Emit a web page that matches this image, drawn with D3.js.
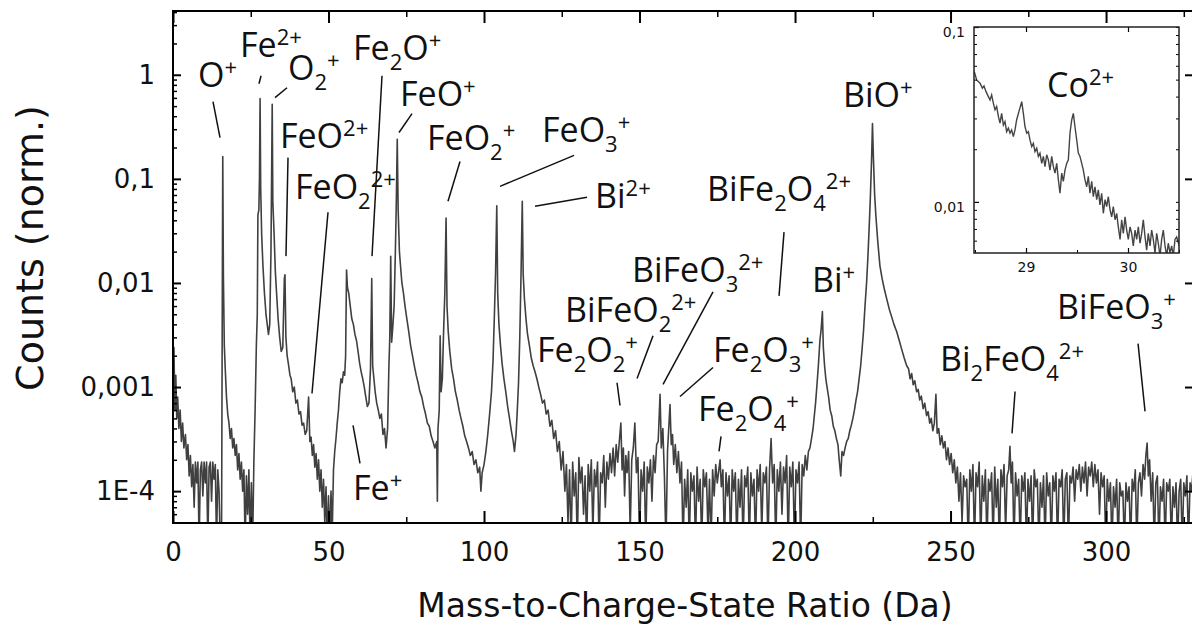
<!DOCTYPE html>
<html>
<head>
<meta charset="utf-8">
<script src="https://cdn.jsdelivr.net/npm/d3@7"></script>
<style>
  body { margin: 0; background: #fff; }
  svg { display: block; }
</style>
</head>
<body>
<div id="chart"></div>
<script>
// spectrum: [mass-to-charge (Da), normalised counts]
const specLow = [[0,1.1e-3],[0.3,2.4e-3],[0.6,6e-4],[0.9,1.3e-3],[1.2,5e-4],[1.5,8e-4],[1.9,4e-4],[2.3,6e-4],[2.7,3e-4],[3.1,4.5e-4],[3.5,2.6e-4],[4.0,3.5e-4],[4.4,2e-4],[4.8,2.8e-4],[5.2,1.4e-4],[5.6,2.2e-4],[6.0,1.1e-4],[6.4,1.8e-4],[6.8,7e-5],[7.2,1.9e-4],[7.6,1.2e-4],[8.0,1.9e-4],[8.4,3e-5],[8.8,1.6e-4],[9.2,1.9e-4],[9.6,9e-5],[10.0,1.9e-4],[10.4,1.2e-4],[10.8,1.9e-4],[11.2,3e-5],[11.6,1.7e-4],[12.0,1.9e-4],[12.4,8e-5],[12.8,1.9e-4],[13.2,1.3e-4],[13.6,1.8e-4],[14.0,3e-5],[14.4,1.6e-4],[14.8,1e-4],[15.2,3e-5],[15.6,3e-5],[15.9,0.02],[16.0,0.164],[16.2,0.012],[16.5,2.5e-3],[16.8,1.5e-3],[17.2,8e-4],[17.6,5.5e-4],[18.0,4.5e-4],[18.4,3.2e-4],[18.8,4e-4],[19.2,2.6e-4],[19.6,3.2e-4],[20.0,2.2e-4],[20.4,2.8e-4],[20.8,1.6e-4],[21.2,2.3e-4],[21.6,1.3e-4],[22.0,1.9e-4],[22.4,1e-4],[22.8,1.6e-4],[23.2,3e-5],[23.6,1.4e-4],[24.0,6e-5],[24.4,1.6e-4],[24.8,3e-5],[25.2,1.2e-4],[25.6,3e-5],[26.0,1.9e-4],[26.4,6e-4],[26.8,2.5e-3],[27.1,5e-3],[27.3,0.045],[27.6,0.05],[27.8,0.1],[28.0,0.59],[28.2,0.08],[28.5,0.03],[28.9,0.015],[29.4,8e-3],[29.9,5e-3],[30.3,4e-3],[30.7,3.2e-3],[31.1,4e-3],[31.5,0.02],[31.9,0.52],[32.1,0.06],[32.5,0.03],[32.9,0.013],[33.3,8e-3],[33.8,4.5e-3],[34.3,3e-3],[34.8,2.2e-3],[35.3,2.4e-3],[35.8,0.011],[36.0,0.012],[36.3,3e-3],[36.7,2e-3],[37.2,1.6e-3],[37.6,1.3e-3],[38.0,1.2e-3],[38.5,9e-4],[39.0,1e-3],[39.5,7e-4],[40.0,7.5e-4],[40.5,5.5e-4],[41.0,5.8e-4],[41.5,4.3e-4],[42.0,4.5e-4],[42.5,3.5e-4],[43.0,3.8e-4],[43.6,8e-4],[44.0,3e-4],[44.4,3.3e-4],[44.8,2.2e-4],[45.2,2.8e-4],[45.6,1.7e-4],[46.0,2.3e-4],[46.4,1.3e-4],[46.8,2e-4],[47.2,1e-4],[47.6,1.6e-4],[48.0,7e-5],[48.4,1.3e-4],[48.8,5e-5],[49.2,1.1e-4],[49.6,3e-5],[50.0,9e-5],[50.4,3e-5],[50.8,1e-4],[51.2,4e-5],[51.6,1.6e-4]];

const specFe = [[52.0,2.4e-4],[52.4,3.2e-4],[52.8,4.5e-4],[53.2,6e-4],[53.6,9e-4],[54.0,1.2e-3],[54.4,1.1e-3],[54.8,1.4e-3],[55.2,1.3e-3],[55.5,2e-3],[55.8,0.0133],[56.1,9e-3],[56.5,8e-3],[57.0,6e-3],[57.5,4.5e-3],[58.0,4e-3],[58.5,3.2e-3],[59.0,2.8e-3],[59.5,2.2e-3],[60.0,1.7e-3],[60.5,1.4e-3],[61.0,1.2e-3],[61.5,1e-3],[62.0,8e-4],[62.5,6.5e-4],[63.0,7e-4],[63.5,1.5e-3],[63.9,0.011],[64.2,1.6e-3],[64.6,1.2e-3],[65.0,9e-4],[65.5,7e-4],[66.0,6e-4],[66.5,5e-4],[67.0,5.5e-4],[67.5,3.5e-4],[68.0,4e-4],[68.5,2.6e-4],[69.0,4e-4],[69.4,1.5e-3],[69.7,3e-3],[70.0,0.018],[70.3,2.7e-3],[70.7,3.9e-3],[71.1,6e-3],[71.5,0.02],[71.8,0.06],[72.1,0.24],[72.4,0.05],[72.8,0.02],[73.2,0.014],[73.6,0.01],[74.1,8e-3],[74.6,6e-3],[75.2,4.5e-3],[75.8,3.4e-3],[76.4,2.5e-3],[77.0,2e-3],[77.6,1.6e-3],[78.2,1.3e-3],[78.8,1.1e-3],[79.4,9e-4],[80.0,8e-4],[80.6,6.5e-4],[81.2,5.5e-4],[81.8,4.5e-4],[82.4,4.2e-4],[83.0,3.4e-4],[83.6,3e-4],[84.2,2.6e-4],[84.8,3e-4],[85.0,8e-5],[85.2,4e-4],[85.6,6e-4],[85.9,3.1e-3],[86.2,9e-4],[86.6,1.2e-3],[87.0,3.4e-3],[87.4,8e-3],[87.8,0.042],[88.1,6e-3],[88.5,3.4e-3],[89.0,2.2e-3],[89.6,1.5e-3],[90.2,1.2e-3],[90.8,9e-4],[91.4,7.5e-4],[92.0,6e-4],[92.6,5e-4],[93.2,4.2e-4],[93.8,3.4e-4],[94.4,3e-4],[95.0,2.6e-4],[95.6,2.2e-4],[96.2,2.4e-4],[96.8,1.8e-4],[97.4,2e-4],[98.0,1.5e-4],[98.6,1.7e-4],[99.0,1e-4],[99.4,1.5e-4],[100.0,1.8e-4],[100.6,2.4e-4],[101.2,3.5e-4],[101.8,5.5e-4],[102.4,9e-4],[102.9,1.8e-3],[103.3,4.5e-3],[103.7,0.012],[104.1,0.055],[104.4,8e-3],[104.8,4e-3],[105.3,2.5e-3],[105.8,1.7e-3],[106.4,1.2e-3],[107.0,9e-4],[107.6,6.5e-4],[108.2,5e-4],[108.8,3.8e-4],[109.4,3e-4],[109.8,2.4e-4],[110.3,3.5e-4],[110.7,6e-4],[111.1,1.1e-3],[111.5,3e-3],[111.9,0.012],[112.3,0.061],[112.6,0.012],[113.0,7e-3],[113.5,4.5e-3],[114.0,3.2e-3],[114.6,2.5e-3],[115.2,1.9e-3],[115.8,1.6e-3],[116.4,1.4e-3],[117.0,1.2e-3],[117.6,1e-3],[118.2,8.5e-4],[118.8,7e-4],[119.4,7.5e-4],[120.0,5.5e-4],[120.6,6e-4],[121.2,4.2e-4],[121.8,4.8e-4],[122.4,3.2e-4],[123.0,3.8e-4],[123.6,2.4e-4],[124.2,3e-4],[124.8,1.6e-4]];

const specMid = [[125.4,2.4e-4],[126.0,1.0e-4],[126.5,1.8e-4],[127.0,5e-5],[127.5,1.6e-4],[128.0,3e-5],[128.5,1.9e-4],[129.0,9e-5],[129.5,1.5e-4],[130.0,3e-5],[130.5,2.1e-4],[131.0,1.2e-4],[131.5,1.7e-4],[132.0,6e-5],[132.5,1.4e-4],[133.0,3e-5],[133.5,1.8e-4],[134.0,1.0e-4],[134.5,2.0e-4],[135.0,4e-5],[135.5,1.6e-4],[136.0,1.1e-4],[136.5,1.9e-4],[137.0,3e-5],[137.5,1.5e-4],[138.0,1.2e-4],[138.5,2.2e-4],[139.0,7e-5],[139.5,1.9e-4],[140.0,1.3e-4],[140.5,2.3e-4],[141.0,1.5e-4],[141.5,2.6e-4],[142.0,1.4e-4],[142.5,2.8e-4],[143.0,1.9e-4],[143.5,3e-4],[144.0,4.5e-4],[144.4,1.6e-4],[144.8,2.6e-4],[145.2,9e-5],[145.6,2.2e-4],[146.0,1.5e-4],[146.5,2.4e-4],[147.0,4e-5],[147.5,2e-4],[148.0,2.6e-4],[148.5,4.5e-4],[149.0,1.5e-4],[149.5,2.1e-4],[150.0,3e-5],[150.5,1.6e-4],[151.0,1.0e-4],[151.5,1.9e-4],[152.0,3e-5],[152.5,1.7e-4],[153.0,1.2e-4],[153.5,2.0e-4],[154.0,8e-5],[154.5,2.2e-4],[155.0,1.5e-4],[155.5,2.8e-4],[156.0,3e-4],[156.6,8.5e-4],[157.0,2.6e-4],[157.5,4e-4],[158.0,1.4e-4],[158.5,3e-5],[159.0,2.4e-4],[159.8,6.8e-4],[160.2,2.8e-4],[160.6,3.5e-4],[161.0,1.8e-4],[161.5,2.8e-4],[162.0,1.5e-4],[162.5,2.4e-4],[163.0,1.2e-4],[163.5,1.9e-4],[164.0,3e-5],[164.5,1.3e-4],[165.0,7e-5],[165.5,1.6e-4],[166.0,3e-5],[166.5,1.5e-4],[167.0,1.0e-4],[167.5,1.4e-4],[168.0,3e-5],[168.5,1.7e-4],[169.0,8e-5],[169.5,1.3e-4],[170.0,3e-5],[170.5,1.6e-4],[171.0,1.1e-4],[171.5,1.5e-4],[172.0,4e-5],[172.5,1.3e-4],[173.0,3e-5],[173.5,1.6e-4],[174.0,9e-5],[174.5,1.8e-4],[175.0,1.2e-4],[175.5,1.6e-4],[175.9,2e-4],[176.3,1.1e-4],[176.8,1.6e-4],[177.3,3e-5],[177.8,1.5e-4],[178.3,9e-5],[178.8,1.4e-4],[179.3,3e-5],[179.8,1.6e-4],[180.3,1.0e-4],[180.8,1.5e-4],[181.3,3e-5],[181.8,1.3e-4],[182.3,7e-5],[182.8,1.6e-4],[183.3,3e-5],[183.8,1.4e-4],[184.3,1.1e-4],[184.8,1.7e-4],[185.3,3e-5],[185.8,1.5e-4],[186.3,9e-5],[186.8,1.3e-4],[187.3,3e-5],[187.8,1.6e-4],[188.3,1.0e-4],[188.8,1.8e-4],[189.3,4e-5],[189.8,1.5e-4],[190.3,1.2e-4],[190.8,1.7e-4],[191.3,3e-5],[191.8,1.6e-4],[192.3,3.2e-4],[192.8,1.2e-4],[193.3,1.8e-4],[193.8,3e-5],[194.3,1.6e-4],[194.8,1.0e-4],[195.3,1.9e-4],[195.8,6e-5],[196.3,1.7e-4],[196.8,1.2e-4],[197.3,2.2e-4],[197.8,3e-5],[198.3,1.7e-4],[198.8,1.1e-4],[199.3,1.9e-4],[199.8,3e-5],[200.3,1.6e-4]];

const specBi = [[200.8,1.2e-4],[201.3,1.9e-4],[201.8,3e-5],[202.3,1.8e-4],[202.8,1.4e-4],[203.3,2.2e-4],[203.8,1.6e-4],[204.3,2.4e-4],[204.8,2.6e-4],[205.3,3.2e-4],[205.8,4e-4],[206.2,5.3e-4],[206.6,7e-4],[207.0,1e-3],[207.5,1.6e-3],[208.0,2.8e-3],[208.4,3.6e-3],[208.8,5.3e-3],[209.1,2.4e-3],[209.5,1.6e-3],[209.9,1.2e-3],[210.3,1e-3],[210.8,8e-4],[211.3,6e-4],[211.8,5.3e-4],[212.3,4.2e-4],[212.8,3.8e-4],[213.3,3.2e-4],[213.8,2.8e-4],[214.2,2e-4],[214.7,1.4e-4],[215.1,2.4e-4],[215.6,2.2e-4],[216.1,2.6e-4],[216.6,3e-4],[217.1,3.2e-4],[217.6,3.8e-4],[218.1,4.3e-4],[218.6,5e-4],[219.1,6e-4],[219.6,7.5e-4],[220.1,9e-4],[220.6,1.2e-3],[221.1,1.6e-3],[221.6,2.4e-3],[222.0,3.4e-3],[222.5,6e-3],[223.0,0.01],[223.4,0.017],[223.8,0.032],[224.2,0.064],[224.6,0.15],[224.9,0.34],[225.2,0.16],[225.6,0.07],[226.0,0.044],[226.6,0.025],[227.3,0.0146],[228.0,0.011],[228.8,8.5e-3],[229.5,7e-3],[230.3,5.6e-3],[231.0,4.8e-3],[231.8,4e-3],[232.7,3.4e-3],[233.5,2.8e-3],[234.3,2.3e-3],[235.1,1.9e-3],[235.9,1.6e-3],[236.5,1.5e-3],[237.0,1.2e-3],[237.5,1.35e-3],[238.0,1.05e-3],[238.5,1.15e-3],[239.1,9e-4],[239.6,9.5e-4],[240.1,7.5e-4],[240.6,8.2e-4],[241.2,6.2e-4],[241.7,7e-4],[242.3,5.3e-4],[242.8,5.8e-4],[243.3,4.5e-4],[243.8,5e-4],[244.3,3.8e-4],[244.8,4.5e-4],[245.3,8.5e-4],[245.7,3.6e-4],[246.2,4e-4],[246.7,2.8e-4],[247.2,3.4e-4],[247.7,2.6e-4],[248.2,3e-4],[248.7,2e-4],[249.2,2.6e-4],[249.7,1.8e-4],[250.2,2.3e-4],[250.7,1.5e-4],[251.2,2e-4],[251.7,1.2e-4],[252.2,1.7e-4],[252.7,8e-5],[253.2,1.5e-4],[253.7,5e-5],[254.2,1.4e-4],[254.7,1.1e-4],[255.2,1.3e-4],[255.7,3e-5],[256.2,1.6e-4]];

const specHigh = [[256.7,1.0e-4],[257.2,1.8e-4],[257.7,3e-5],[258.2,1.5e-4],[258.7,1.1e-4],[259.2,1.9e-4],[259.7,3e-5],[260.2,1.4e-4],[260.7,8e-5],[261.2,1.6e-4],[261.7,3e-5],[262.2,1.3e-4],[262.7,1.0e-4],[263.2,1.5e-4],[263.7,3e-5],[264.2,1.7e-4],[264.7,7e-5],[265.2,1.3e-4],[265.7,3e-5],[266.2,1.6e-4],[266.7,1.1e-4],[267.2,1.8e-4],[267.7,4e-5],[268.2,1.4e-4],[268.7,1.6e-4],[269.1,2.7e-4],[269.5,1.2e-4],[269.9,1.9e-4],[270.4,3e-5],[270.9,1.5e-4],[271.4,9e-5],[271.9,1.3e-4],[272.4,3e-5],[272.9,1.4e-4],[273.4,1.0e-4],[273.9,1.5e-4],[274.4,3e-5],[274.9,1.3e-4],[275.4,8e-5],[275.9,1.4e-4],[276.4,3e-5],[276.9,1.6e-4],[277.4,1.1e-4],[277.9,1.3e-4],[278.4,3e-5],[278.9,1.2e-4],[279.4,7e-5],[279.9,1.4e-4],[280.4,3e-5],[280.9,1.5e-4],[281.4,9e-5],[281.9,1.2e-4],[282.4,3e-5],[282.9,1.4e-4],[283.4,1.0e-4],[283.9,1.5e-4],[284.4,3e-5],[284.9,1.3e-4],[285.4,1.1e-4],[285.9,1.6e-4],[286.4,3e-5],[286.9,1.3e-4],[287.4,1.5e-4],[287.9,3e-5],[288.4,1.4e-4],[288.9,1.2e-4],[289.4,1.7e-4],[289.9,8e-5],[290.4,1.6e-4],[290.9,1.3e-4],[291.4,1.8e-4],[291.9,1.0e-4],[292.4,1.7e-4],[292.9,1.2e-4],[293.4,1.9e-4],[293.9,9e-5],[294.4,1.7e-4],[294.9,1.4e-4],[295.4,1.9e-4],[295.9,1.1e-4],[296.4,1.8e-4],[296.9,1.2e-4],[297.4,1.6e-4],[297.9,6e-5],[298.4,1.5e-4],[298.9,1.1e-4],[299.4,1.4e-4],[299.9,3e-5],[300.4,1.3e-4],[300.9,8e-5],[301.4,1.2e-4],[301.9,3e-5],[302.4,1.1e-4],[302.9,7e-5],[303.4,1.3e-4],[303.9,3e-5],[304.4,1.2e-4],[304.9,9e-5],[305.4,1.0e-4],[305.9,3e-5],[306.4,1.2e-4],[306.9,8e-5],[307.4,1.1e-4],[307.9,3e-5],[308.4,1.3e-4],[308.9,1.0e-4],[309.4,1.6e-4],[309.9,3e-5],[310.4,1.2e-4],[310.9,1.5e-4],[311.4,9e-5],[311.9,1.8e-4],[312.4,1.3e-4],[312.8,2.2e-4],[313.2,2.9e-4],[313.6,1.4e-4],[314.0,2e-4],[314.5,8e-5],[315.0,1.5e-4],[315.5,3e-5],[316.0,1.2e-4],[316.5,1.4e-4],[317.0,3e-5],[317.5,1.1e-4],[318.0,8e-5],[318.5,1.3e-4],[319.0,3e-5],[319.5,1.2e-4],[320.0,1.0e-4],[320.5,1.3e-4],[321.0,3e-5],[321.5,1.1e-4],[322.0,7e-5],[322.5,1.2e-4],[323.0,3e-5],[323.5,1.0e-4],[324.0,1.3e-4],[324.5,3e-5],[325.0,1.2e-4],[325.5,9e-5],[326.0,1.4e-4],[326.5,3e-5],[327.0,1.2e-4],[327.5,1.0e-4],[328.0,1.6e-4],[328.6,1.1e-4]];

// inset: zoom around the Co2+ line
const insetSpec = [[28.493,0.0556],[28.516,0.0498],[28.549,0.0477],[28.572,0.0447],[28.588,0.046],[28.608,0.0427],[28.631,0.04],[28.647,0.0383],[28.663,0.0409],[28.680,0.0366],[28.696,0.0336],[28.712,0.0351],[28.729,0.0308],[28.745,0.0282],[28.761,0.0321],[28.778,0.0275],[28.794,0.0288],[28.810,0.0252],[28.827,0.0264],[28.843,0.0247],[28.859,0.0258],[28.876,0.0236],[28.892,0.0258],[28.908,0.0294],[28.935,0.0336],[28.958,0.0374],[28.974,0.0321],[28.990,0.0269],[29.007,0.0247],[29.023,0.0252],[29.039,0.0226],[29.056,0.0207],[29.072,0.0216],[29.088,0.0194],[29.105,0.0203],[29.121,0.0182],[29.137,0.019],[29.154,0.0166],[29.170,0.0182],[29.186,0.0159],[29.203,0.0186],[29.219,0.0174],[29.235,0.0152],[29.252,0.0182],[29.268,0.0159],[29.284,0.0146],[29.301,0.0166],[29.317,0.0134],[29.333,0.0112],[29.350,0.0146],[29.366,0.0131],[29.382,0.0152],[29.399,0.0166],[29.415,0.0174],[29.431,0.0247],[29.448,0.0294],[29.464,0.0321],[29.480,0.0269],[29.497,0.0226],[29.513,0.019],[29.529,0.0182],[29.546,0.0166],[29.562,0.0152],[29.578,0.0134],[29.595,0.0122],[29.611,0.014],[29.627,0.0112],[29.644,0.0131],[29.660,0.0107],[29.676,0.0122],[29.693,0.0103],[29.709,0.0117],[29.725,0.0096],[29.742,0.0112],[29.758,0.0086],[29.775,0.0103],[29.791,0.0094],[29.807,0.0107],[29.824,0.009],[29.840,0.0082],[29.856,0.0094],[29.873,0.0079],[29.889,0.0086],[29.905,0.0072],[29.922,0.0061],[29.938,0.0079],[29.954,0.0066],[29.971,0.0082],[29.987,0.0069],[30.003,0.0061],[30.020,0.0072],[30.036,0.0066],[30.052,0.0056],[30.069,0.0069],[30.085,0.0061],[30.101,0.0072],[30.118,0.0058],[30.134,0.0066],[30.150,0.0079],[30.167,0.0063],[30.183,0.0053],[30.199,0.0066],[30.216,0.0056],[30.232,0.0069],[30.248,0.0061],[30.265,0.0051],[30.281,0.0066],[30.297,0.0058],[30.314,0.0049],[30.330,0.0061],[30.346,0.0069],[30.363,0.0056],[30.379,0.0049],[30.395,0.0058],[30.412,0.0051],[30.428,0.0056],[30.444,0.0049],[30.461,0.0061],[30.477,0.0063],[30.503,0.0056]];

// ticks
const xMajor = [0, 50, 100, 150, 200, 250, 300];
const xTickLabels = ["0", "50", "100", "150", "200", "250", "300"];
const xMinor = [25, 75, 125, 175, 225, 275, 325];
const yMajor = [1e-4, 1e-3, 1e-2, 0.1, 1];
const yTickLabels = ["1E-4", "0,001", "0,01", "0,1", "1"];
const insetXMajor = [29, 30];
const insetXLabels = ["29", "30"];
const insetYMajor = [0.01, 0.1];
const insetYLabels = ["0,01", "0,1"];

// peak labels: text, anchor (Da, counts), leader line (Da1, c1, Da2, c2)
const labelText = ["O^{+}", "Fe^{2+}", "O_{2}^{+}", "Fe_{2}O^{+}", "FeO^{+}", "FeO^{2+}", "FeO_{2}^{2+}",
  "FeO_{2}^{+}", "FeO_{3}^{+}", "Bi^{2+}", "BiFe_{2}O_{4}^{2+}", "BiFeO_{3}^{2+}", "BiFeO_{2}^{2+}",
  "Fe_{2}O_{2}^{+}", "Fe_{2}O_{3}^{+}", "Fe_{2}O_{4}^{+}", "Bi^{+}", "BiO^{+}", "Bi_{2}FeO_{4}^{2+}",
  "BiFeO_{3}^{+}", "Fe^{+}"];
const labelPos = [[8.04,0.767],[21.54,1.487],[36.98,0.896],[57.88,1.39],[72.99,0.505],[34.4,0.2],[39.23,0.0637],
  [81.67,0.191],[118.65,0.224],[135.69,0.0522],[171.7,0.0609],[147.59,0.0102],[126.05,4.24e-3],
  [117.04,1.75e-3],[173.63,1.75e-3],[168.81,4.68e-4],[205.47,8.2e-3],[215.43,0.494],[246.62,1.44e-3],
  [284.24,4.53e-3],[57.88,8.2e-5]];
const leaders = [[12.86,0.552,15.11,0.249],[28.3,0.978,27.65,0.82],[36.66,0.751,32.8,0.603],[67.2,0.978,63.99,0.0181],
  [76.85,0.424,72.67,0.279],[36.98,0.16,36.33,0.0181],[49.84,0.0478,44.69,8.67e-4],[92.28,0.147,88.42,0.0609],
  [128.94,0.168,105.14,0.0848],[133.12,0.0665,116.4,0.0546],[196.46,0.0308,194.86,7.51e-3],[173.63,8.2e-3,157.56,1.06e-3],
  [154.34,3.11e-3,149.2,1.21e-3],[142.77,1.1e-3,143.73,6.65e-4],[173.63,1.54e-3,163.02,8.1e-4],[176.2,3.36e-4,175.56,2.41e-4],
  [270.74,9.06e-4,269.77,3.59e-4],[310.29,2.61e-3,312.54,5.83e-4],[57.88,4.28e-4,60.13,1.85e-4]];
const insetLabel = "Co^{2+}";
const insetLabelPos = [29.206, 0.0398];

// set the dimensions and margins of the graph
const W = 1192, H = 627;
const margin = {top: 11, right: -3, bottom: 104, left: 173},
  width = W - margin.left - margin.right,
  height = H - margin.top - margin.bottom;

const svg = d3.select("#chart").append("svg")
  .attr("width", W)
  .attr("height", H);

const g = svg.append("g")
  .attr("transform", `translate(${margin.left},${margin.top})`);

const x = d3.scaleLinear().domain([0, 328.6]).range([0, width]);
const y = d3.scaleLog().domain([4.94e-5, 4.1]).range([height, 0]);

const spectrum = [].concat(specLow, specFe, specMid, specBi, specHigh).map(([mz, c]) => ({mz, c}));

g.append("clipPath").attr("id", "plotclip")
  .append("rect").attr("width", width).attr("height", height);

g.append("path")
  .datum(spectrum)
  .attr("clip-path", "url(#plotclip)")
  .attr("fill", "none")
  .attr("stroke", "#404040")
  .attr("stroke-width", 1.6)
  .attr("stroke-linejoin", "round")
  .attr("d", d3.line().x(d => x(d.mz)).y(d => y(d.c)));

function styleAxis(sel, sw, fs) {
  sel.select(".domain").remove();
  sel.selectAll(".tick line").attr("stroke", "#000").attr("stroke-width", sw);
  sel.selectAll("text").attr("font-family", "DejaVu Sans").attr("font-size", fs).attr("fill", "#111");
}

const yMinor = y.ticks().filter(v => !yMajor.some(m => Math.abs(m - v) / m < 1e-6));

// bottom axis
g.append("g").attr("transform", `translate(0,${height})`)
  .call(d3.axisBottom(x).tickValues(xMajor).tickSize(-12).tickPadding(20).tickFormat((d, i) => xTickLabels[i]))
  .call(s => styleAxis(s, 2, 26));
g.append("g").attr("transform", `translate(0,${height})`)
  .call(d3.axisBottom(x).tickValues(xMinor).tickSize(-6).tickFormat(""))
  .call(s => styleAxis(s, 1.5, 26));
// top axis
g.append("g")
  .call(d3.axisTop(x).tickValues(xMajor).tickSize(-12).tickFormat(""))
  .call(s => styleAxis(s, 2, 26));
g.append("g")
  .call(d3.axisTop(x).tickValues(xMinor).tickSize(-6).tickFormat(""))
  .call(s => styleAxis(s, 1.5, 26));
// left axis
g.append("g")
  .call(d3.axisLeft(y).tickValues(yMajor).tickSize(-8).tickPadding(18).tickFormat((d, i) => yTickLabels[i]))
  .call(s => styleAxis(s, 2, 26));
g.append("g")
  .call(d3.axisLeft(y).tickValues(yMinor).tickSize(-4).tickFormat(""))
  .call(s => styleAxis(s, 1.5, 26));
// right axis
g.append("g").attr("transform", `translate(${width},0)`)
  .call(d3.axisRight(y).tickValues(yMajor).tickSize(-10).tickFormat(""))
  .call(s => styleAxis(s, 2, 26));

// frame
g.append("rect")
  .attr("width", width).attr("height", height)
  .attr("fill", "none").attr("stroke", "#000").attr("stroke-width", 2);

// axis titles
svg.append("text")
  .attr("transform", "translate(43,248) rotate(-90)")
  .attr("text-anchor", "middle")
  .attr("font-family", "DejaVu Sans").attr("font-size", 38).attr("fill", "#111")
  .text("Counts (norm.)");
svg.append("text")
  .attr("x", 685).attr("y", 617)
  .attr("text-anchor", "middle")
  .attr("font-family", "DejaVu Sans").attr("font-size", 33).attr("fill", "#111")
  .text("Mass-to-Charge-State Ratio (Da)");

// chemical formula label with sub/superscripts
function addFormula(parent, str, px, py) {
  const t = parent.append("text")
    .attr("x", px).attr("y", py)
    .attr("font-family", "Open Sans").attr("font-size", 34).attr("fill", "#111");
  const re = /(_|\^)\{([^}]*)\}|([^_^]+)/g;
  let m, cur = 0;
  while ((m = re.exec(str)) !== null) {
    let target, txt, fs;
    if (m[3]) { target = 0; txt = m[3]; fs = 34; }
    else if (m[1] === "_") { target = 10; txt = m[2]; fs = 22; }
    else { target = -12; txt = m[2]; fs = 22; }
    t.append("tspan").attr("dy", target - cur).attr("font-size", fs).text(txt);
    cur = target;
  }
  return t;
}

const labels = g.append("g");
labels.selectAll("line")
  .data(leaders)
  .join("line")
  .attr("x1", d => x(d[0])).attr("y1", d => y(d[1]))
  .attr("x2", d => x(d[2])).attr("y2", d => y(d[3]))
  .attr("stroke", "#111").attr("stroke-width", 1.5);
labelText.forEach((s, i) => addFormula(labels, s, x(labelPos[i][0]), y(labelPos[i][1])));

// inset
const inset = {left: 974, top: 27, w: 205, h: 226};
const ig = svg.append("g").attr("transform", `translate(${inset.left},${inset.top})`);
const ix = d3.scaleLinear().domain([28.49, 30.5]).range([0, inset.w]);
const iy = d3.scaleLog().domain([0.0051, 0.1]).range([inset.h, 0]);
const iyMinor = iy.ticks().filter(v => !insetYMajor.some(m => Math.abs(m - v) / m < 1e-6));
const ixMinor = [28.5, 29.5, 30.5];

ig.append("rect").attr("width", inset.w).attr("height", inset.h).attr("fill", "#fff");
ig.append("clipPath").attr("id", "insetclip")
  .append("rect").attr("width", inset.w).attr("height", inset.h);
ig.append("path")
  .datum(insetSpec)
  .attr("clip-path", "url(#insetclip)")
  .attr("fill", "none").attr("stroke", "#444").attr("stroke-width", 1.4)
  .attr("d", d3.line().x(d => ix(d[0])).y(d => iy(d[1])));

ig.append("g").attr("transform", `translate(0,${inset.h})`)
  .call(d3.axisBottom(ix).tickValues(insetXMajor).tickSize(-5).tickPadding(9).tickFormat((d, i) => insetXLabels[i]))
  .call(s => styleAxis(s, 1.2, 14));
ig.append("g").attr("transform", `translate(0,${inset.h})`)
  .call(d3.axisBottom(ix).tickValues(ixMinor).tickSize(-3).tickFormat(""))
  .call(s => styleAxis(s, 1, 14));
ig.append("g")
  .call(d3.axisTop(ix).tickValues(insetXMajor).tickSize(-5).tickFormat(""))
  .call(s => styleAxis(s, 1.2, 14));
ig.append("g")
  .call(d3.axisLeft(iy).tickValues(insetYMajor).tickSize(-5).tickPadding(9).tickFormat((d, i) => insetYLabels[i]))
  .call(s => styleAxis(s, 1.2, 14))
  .call(s => s.selectAll("text").attr("dy", "0.7em"));
ig.append("g")
  .call(d3.axisLeft(iy).tickValues(iyMinor).tickSize(-3).tickFormat(""))
  .call(s => styleAxis(s, 1, 14));
ig.append("g").attr("transform", `translate(${inset.w},0)`)
  .call(d3.axisRight(iy).tickValues(iyMinor.concat(insetYMajor)).tickSize(-3).tickFormat(""))
  .call(s => styleAxis(s, 1, 14));
ig.append("rect")
  .attr("width", inset.w).attr("height", inset.h)
  .attr("fill", "none").attr("stroke", "#222").attr("stroke-width", 1.5);

addFormula(ig, insetLabel, ix(insetLabelPos[0]), iy(insetLabelPos[1]));
</script>
</body>
</html>
